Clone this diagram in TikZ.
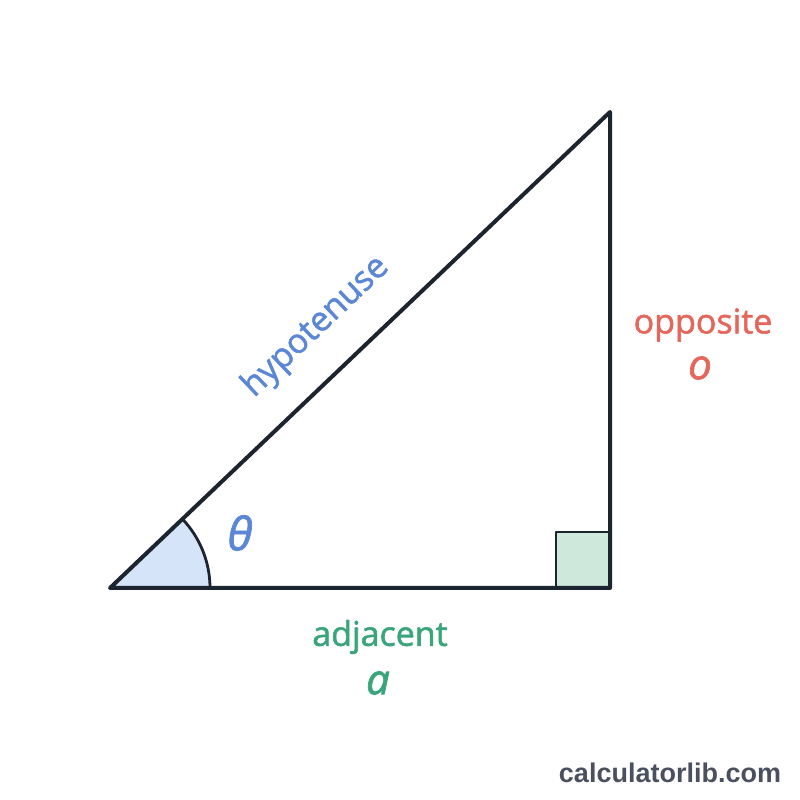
\documentclass[tikz,border=0pt]{standalone}
\usepackage{fontspec}
\setmainfont{Open Sans}[RawFeature={embolden=1.6}]
\newfontfamily\sitefont{Liberation Sans}
\usepackage{tikz}
\usetikzlibrary{positioning}

\definecolor{edgedark}{HTML}{1C2430}
\definecolor{hypblue}{HTML}{5B87D6}
\definecolor{oppred}{HTML}{E5665A}
\definecolor{adjgreen}{HTML}{3AA57A}
\definecolor{anglefillc}{HTML}{D6E4FA}
\definecolor{rightfillc}{HTML}{CFE8DC}
\definecolor{sitegray}{HTML}{4A5060}

\begin{document}
\begin{tikzpicture}[x=1pt,y=1pt,line join=round,
        side/.style={draw=edgedark,line width=4pt},
        mark line/.style={draw=edgedark,line width=2.8pt},
        word/.style={font=\fontsize{34}{40}\selectfont,inner sep=0pt},
        symb/.style={font=\fontsize{42}{48}\selectfont\itshape,inner sep=0pt}]
            \useasboundingbox (0,0) rectangle (800,800);

            % corners of the triangle
            \coordinate (A) at (110,212);
            \coordinate (B) at (610,212);
            \coordinate (C) at (610,688);

            % angle and right angle marks
            \fill[anglefillc] (A) -- ++(0:100) arc (0:43.59:100) -- cycle;
            \draw[mark line] (A) ++(0:100) arc (0:43.59:100);
            \path[fill=rightfillc,mark line] (556,212) rectangle (610,268);

            \draw[side] (A) -- (B) -- (C) -- cycle;

            % labels
            \node   [word,text=hypblue,rotate=43.59]   (hyp)  at (316,473) {hypotenuse};
            \node   [symb,text=hypblue,font=\fontsize{46}{52}\selectfont\itshape] (th) at (240,267) {θ};
            \node   [word,text=oppred]                 (opp)  at (703,475) {opposite};
            \node   [symb,text=oppred]                 (o)    at (700,432) {o};
            \node   [word,text=adjgreen]               (adj)  at (380,163) {adjacent};
            \node   [symb,text=adjgreen]               (a)    at (378,117) {a};
            \node   [font=\sitefont\bfseries\fontsize{27}{32}\selectfont,text=sitegray] (site) at (670,27) {calculatorlib.com};
        \end{tikzpicture}
\end{document}
